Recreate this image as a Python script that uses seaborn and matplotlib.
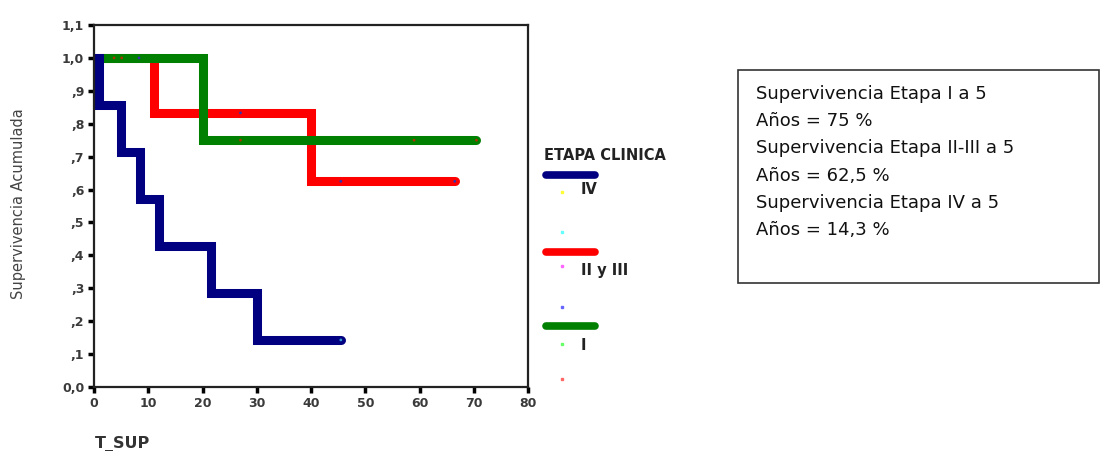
import numpy as np
import pandas as pd
import matplotlib
matplotlib.use("Agg")
import matplotlib.pyplot as plt
import seaborn as sns
from matplotlib.lines import Line2D
from matplotlib.patches import Rectangle

# ---- data ----
groups = ["IV", "II y III", "I"]
iv_time = [0, 1, 5, 8.5, 12, 21.5, 30, 45.5]
iv_surv = [1.0, 0.857, 0.714, 0.571, 0.429, 0.286, 0.143, 0.143]
ii_time = [0, 11, 40, 66.5]
ii_surv = [1.0, 0.833, 0.625, 0.625]
i_time = [0, 20, 70.5]
i_surv = [1.0, 0.75, 0.75]

# censored marks (small dots on curves)
cens_x = [45.5, 27, 45.5, 66.5, 27, 59, 70.5, 3.7, 5.1, 8.3]
cens_y = [0.143, 0.833, 0.625, 0.625, 0.75, 0.75, 0.75, 1.0, 1.0, 1.0]
cens_c = ["#3399cc", "#3333aa", "#3333aa", "#3333aa", "#aa3300", "#aa3300", "#aa3300",
          "#aa3300", "#aa3300", "#3333aa"]

colors = {"IV": "#000080", "II y III": "#ff0000", "I": "#008000"}

yticks = [0.0, 0.1, 0.2, 0.3, 0.4, 0.5, 0.6, 0.7, 0.8, 0.9, 1.0, 1.1]
ytick_labels = ["0,0", ",1", ",2", ",3", ",4", ",5", ",6", ",7", ",8", ",9", "1,0", "1,1"]
xticks = [0, 10, 20, 30, 40, 50, 60, 70, 80]

text_lines = ["Supervivencia Etapa I a 5", "Años = 75 %",
              "Supervivencia Etapa II-III a 5", "Años = 62,5 %",
              "Supervivencia Etapa IV a 5", "Años = 14,3 %"]

df = pd.concat([
    pd.DataFrame({"t": iv_time, "s": iv_surv, "g": "IV"}),
    pd.DataFrame({"t": ii_time, "s": ii_surv, "g": "II y III"}),
    pd.DataFrame({"t": i_time, "s": i_surv, "g": "I"}),
], ignore_index=True)

sns.set_style("white")
plt.rcParams["font.family"] = ["DejaVu Sans"]

W, H = 1100, 451
fig = plt.figure(figsize=(11, 4.51), dpi=100)
ax = fig.add_axes([94 / W, 1 - 387 / H, (528 - 94) / W, (387 - 25) / H])

for g in ["II y III", "I", "IV"]:
    sub = df[df["g"] == g]
    sns.lineplot(data=sub, x="t", y="s", ax=ax, color=colors[g], linewidth=6.5,
                 drawstyle="steps-post", legend=False, estimator=None, sort=False,
                 solid_capstyle="round", solid_joinstyle="miter")

ax.scatter(cens_x, cens_y, s=4, c=cens_c, zorder=5, linewidths=0)

ax.set_xlim(0, 80)
ax.set_ylim(0, 1.1)
ax.set_xticks(xticks)
ax.set_yticks(yticks)
tick_font = dict(family="DejaVu Sans", weight="bold", size=9, color="#3a3a3a")
ax.set_xticklabels([str(v) for v in xticks], **tick_font)
ax.set_yticklabels(ytick_labels, **tick_font)
ax.tick_params(axis="both", direction="out", length=4, width=2.5, color="black",
               bottom=True, left=True, pad=3)
for sp in ax.spines.values():
    sp.set_visible(True)
    sp.set_color("#222222")
    sp.set_linewidth(1.6)
ax.set_xlabel("")
ax.set_ylabel("")

fig.text(19 / W, 1 - 204 / H, "Supervivencia Acumulada", rotation=90, ha="center",
         va="center", family="DejaVu Sans", size=10.5, color="#444444")
fig.text(95 / W, 1 - 444 / H, "T_SUP", ha="left", va="center",
         family="DejaVu Sans", weight="bold", size=11.5, color="#333333")

# legend (drawn manually, SPSS style)
fig.text(544 / W, 1 - 155 / H, "ETAPA CLINICA", ha="left", va="center",
         family="DejaVu Sans", weight="bold", size=10.5, color="#222222")
leg_y = [175, 252, 326]
lab_y = [190, 270, 345]
dot_specs = [(192, "#ffff33"), (232, "#66ffff"), (266, "#ff66ff"), (307, "#6666ff"),
             (344, "#66ff66"), (379, "#ff6666")]
for g, ly, ty in zip(groups, leg_y, lab_y):
    fig.add_artist(Line2D([546 / W, 595 / W], [1 - ly / H, 1 - ly / H],
                          color=colors[g], linewidth=5.5, solid_capstyle="round"))
    fig.text(581 / W, 1 - ty / H, g, ha="left", va="center",
             family="DejaVu Sans", weight="bold", size=10.5, color="#222222")
for dy, dc in dot_specs:
    fig.add_artist(Line2D([562 / W], [1 - dy / H], marker="s", markersize=2,
                          color=dc, linewidth=0))

# text box
fig.add_artist(Rectangle((738 / W, 1 - 283 / H), (1099 - 738) / W, (283 - 70) / H,
                         fill=False, edgecolor="#333333", linewidth=1.2,
                         transform=fig.transFigure))
for i, line in enumerate(text_lines):
    fig.text(756 / W, 1 - (94 + i * 27.2) / H, line, ha="left", va="center",
             family="DejaVu Sans", size=13, color="#111111")

fig.savefig("out.png", dpi=100)
